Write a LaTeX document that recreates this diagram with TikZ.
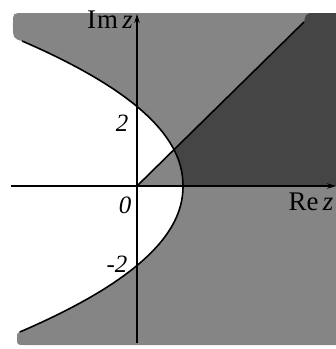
\documentclass[tikz,border=0pt]{standalone}
\usepackage{fontspec}
\setmainfont{Liberation Serif}
\usetikzlibrary{arrows.meta}
\definecolor{regiongray}{gray}{0.52}
\definecolor{regiondark}{gray}{0.27}
\tikzset{declare function={cx(\t)=46-46*pow(abs(\t)/79.5+0.0001,2.084);}}

\begin{document}
\begin{tikzpicture}[x=1bp,y=1bp,
    axis/.style={line width=1.2bp,-{Stealth[length=9bp,width=5.5bp]}},
    curve/.style={line width=1.6bp},
    lbl/.style={inner sep=0pt,font=\fontsize{27}{31}\selectfont},
    num/.style={inner sep=0pt,font=\fontsize{25}{28}\selectfont}]
    \useasboundingbox (-137,-163) rectangle (199,186);
    % outside of the curve
    \fill[regiongray] (-115,145) .. controls (-124,147) and (-124,150) .. (-124,158)
      -- (-124,163) .. controls (-124,173) .. (-113,173) -- (199,173) -- (199,-159)
      -- (-112,-159) .. controls (-120,-159) .. (-120,-152) .. controls (-120,-148) .. (-118,-146)
      -- plot[variable=\t,domain=-146:145,samples=90] ({cx(\t)},{\t}) -- cycle;
    % wedge inside the curve
    \fill[regiongray] (0,0) -- (37,36.3)
      -- plot[variable=\t,domain=36.3:0,samples=20] ({cx(\t)},{\t}) -- cycle;
    % wedge outside the curve
    \fill[regiondark] (37,36.3) -- (167,164) .. controls (169,172) .. (174,173) -- (199,173)
      -- (199,0) -- (46,0)
      -- plot[variable=\t,domain=0:36.3,samples=20] ({cx(\t)},{\t}) -- cycle;
    % axes
    \coordinate (o) at (0,0);
    \coordinate (xl) at (-126,0);
    \coordinate (xr) at (199,0);
    \coordinate (yb) at (0,-157);
    \coordinate (yt) at (0,172);
    \coordinate (ray) at (167,164);
    \draw[axis] (xl) -- (xr);
    \draw[axis] (yb) -- (yt);
    % ray and curve
    \draw[curve] (o) -- (ray);
    \draw[curve] plot[variable=\t,domain=-146:145,samples=90] ({cx(\t)},{\t});
    % labels
    \node[lbl] (im) at (-27,166) {I\kern1bp m\,\textit{z}};
    \node[lbl] (re) at (174,-16) {Re\,\textit{z}};
    \node[num] (zero) at (-12,-19) {\textit{0}};
    \node[num] (two) at (-15,63) {\textit{2}};
    \node[num] (mtwo) at (-20,-78) {-\textit{2}};
\end{tikzpicture}
\end{document}
